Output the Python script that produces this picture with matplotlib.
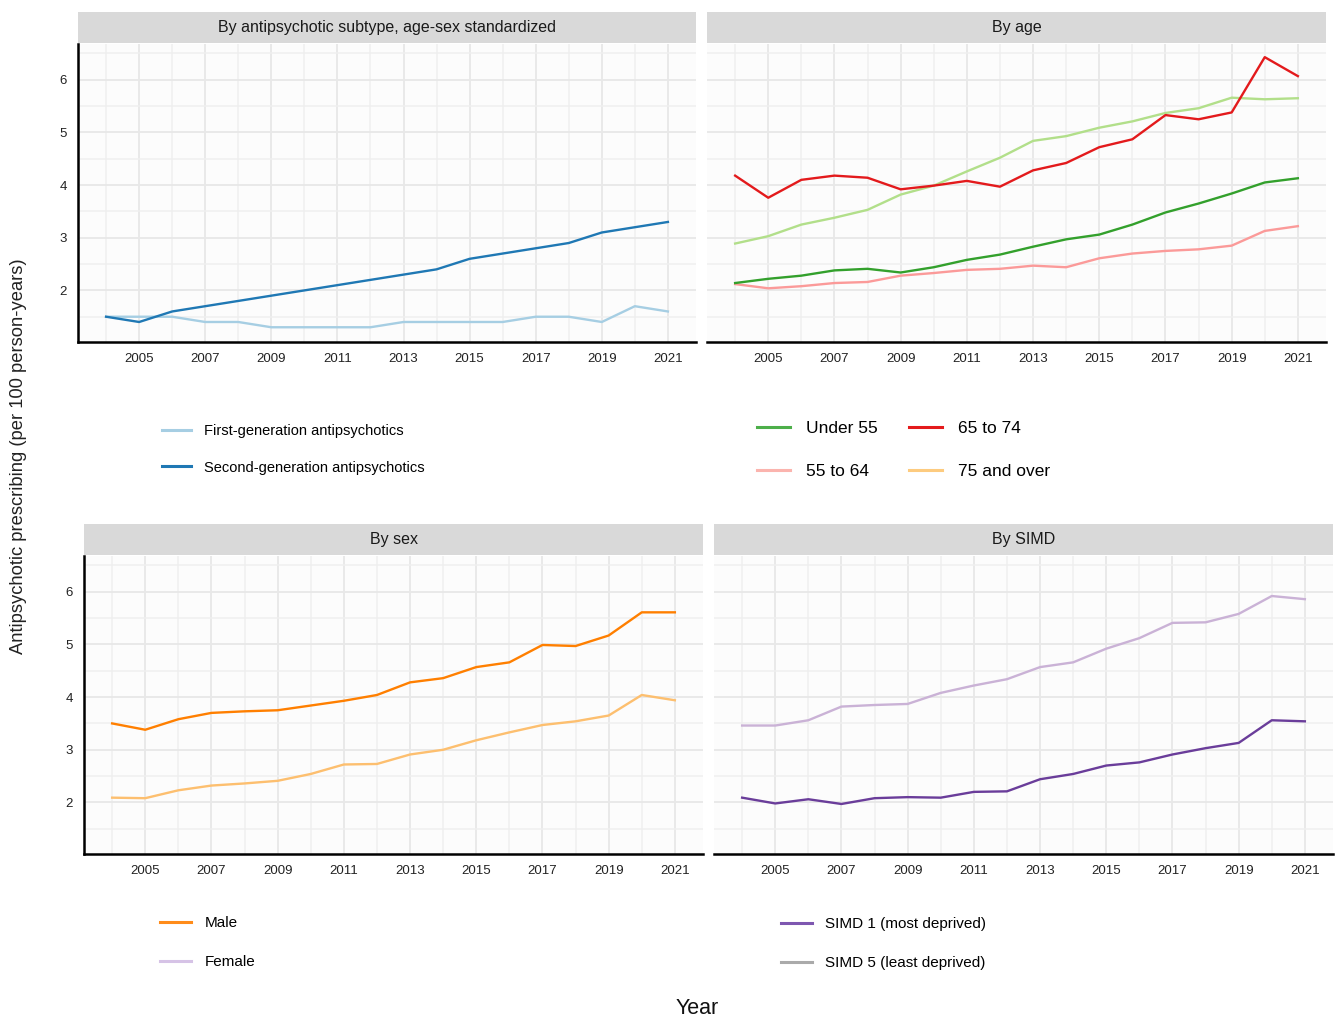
import matplotlib
matplotlib.use("Agg")
import matplotlib.pyplot as plt
from matplotlib.lines import Line2D

plt.rcParams['font.family'] = ['Liberation Sans', 'DejaVu Sans']

years = list(range(2004, 2022))

# subtype, age-sex standardized
first_gen = [1.5, 1.5, 1.5, 1.4, 1.4, 1.3, 1.3, 1.3, 1.3, 1.4, 1.4, 1.4, 1.4, 1.5, 1.5, 1.4, 1.7, 1.6]
second_gen = [1.5, 1.4, 1.6, 1.7, 1.8, 1.9, 2.0, 2.1, 2.2, 2.3, 2.4, 2.6, 2.7, 2.8, 2.9, 3.1, 3.2, 3.3]

# age groups
under_55 = [2.14, 2.22, 2.28, 2.38, 2.41, 2.34, 2.44, 2.58, 2.68, 2.83, 2.97, 3.06, 3.25, 3.48, 3.65, 3.84, 4.05, 4.13]
age_55_64 = [2.12, 2.04, 2.08, 2.14, 2.16, 2.28, 2.33, 2.39, 2.41, 2.47, 2.44, 2.61, 2.70, 2.75, 2.78, 2.85, 3.13, 3.22]
age_65_74 = [4.18, 3.76, 4.10, 4.18, 4.14, 3.92, 3.99, 4.08, 3.97, 4.28, 4.42, 4.72, 4.87, 5.33, 5.25, 5.38, 6.43, 6.07]
age_75_over = [2.89, 3.03, 3.25, 3.38, 3.53, 3.82, 3.99, 4.26, 4.52, 4.84, 4.93, 5.09, 5.21, 5.37, 5.46, 5.66, 5.63, 5.65]

# sex
male = [3.50, 3.38, 3.58, 3.70, 3.73, 3.75, 3.84, 3.93, 4.04, 4.28, 4.36, 4.57, 4.66, 4.99, 4.97, 5.17, 5.61, 5.61]
female = [2.09, 2.08, 2.23, 2.32, 2.36, 2.41, 2.54, 2.72, 2.73, 2.91, 3.00, 3.18, 3.33, 3.47, 3.54, 3.65, 4.04, 3.94]

# deprivation
simd1 = [2.09, 1.98, 2.06, 1.97, 2.08, 2.10, 2.09, 2.20, 2.21, 2.44, 2.54, 2.70, 2.76, 2.91, 3.03, 3.13, 3.56, 3.54]
simd5 = [3.46, 3.46, 3.56, 3.82, 3.85, 3.87, 4.08, 4.22, 4.34, 4.57, 4.66, 4.92, 5.12, 5.41, 5.42, 5.58, 5.92, 5.86]

W, H = 1338, 1019
fig = plt.figure(figsize=(W / 100, H / 100), dpi=100)


def px_axes(x0, y0, x1, y1):
    return fig.add_axes([x0 / W, 1 - y1 / H, (x1 - x0) / W, (y1 - y0) / H])


def panel(x0, y0, x1, y1, title, show_y):
    strip = px_axes(x0, y0 - 32, x1, y0 - 1)
    strip.set_facecolor('#D9D9D9')
    strip.set_xticks([])
    strip.set_yticks([])
    for s in strip.spines.values():
        s.set_visible(False)
    strip.text(0.5, 0.5, title, ha='center', va='center', fontsize=11.5, color='#1A1A1A')

    ax = px_axes(x0, y0, x1, y1)
    ax.set_facecolor('#FCFCFC')
    ax.set_xlim(2003.15, 2021.85)
    ax.set_ylim(1.02, 6.68)
    ax.set_xticks(range(2005, 2022, 2))
    ax.set_xticks(range(2004, 2022, 2), minor=True)
    ax.set_yticks([2, 3, 4, 5, 6])
    ax.set_yticks([1.5, 2.5, 3.5, 4.5, 5.5, 6.5], minor=True)
    ax.grid(True, which='major', color='#E8E8E8', lw=1.3)
    ax.grid(True, which='minor', color='#EFEFEF', lw=1.1)
    ax.set_axisbelow(True)
    ax.tick_params(which='both', length=0, labelsize=9.5, colors='#222222', pad=8)
    for s in ['top', 'right']:
        ax.spines[s].set_visible(False)
    ax.spines['bottom'].set_linewidth(1.8)
    ax.spines['left'].set_linewidth(1.8)
    if not show_y:
        ax.spines['left'].set_visible(False)
        ax.set_yticklabels([])
    return ax


lw = 1.7
ax1 = panel(78, 44, 696, 342, 'By antipsychotic subtype, age-sex standardized', True)
ax1.plot(years, first_gen, color='#A6CEE3', lw=lw)
ax1.plot(years, second_gen, color='#1F78B4', lw=lw)

ax2 = panel(707, 44, 1326, 342, 'By age', False)
ax2.plot(years, age_75_over, color='#B2DF8A', lw=lw)
ax2.plot(years, age_55_64, color='#FB9A99', lw=lw)
ax2.plot(years, under_55, color='#33A02C', lw=lw)
ax2.plot(years, age_65_74, color='#E31A1C', lw=lw)

ax3 = panel(84, 556, 703, 854, 'By sex', True)
ax3.plot(years, female, color='#FDBF6F', lw=lw)
ax3.plot(years, male, color='#FF7F00', lw=lw)

ax4 = panel(714, 556, 1333, 854, 'By SIMD', False)
ax4.plot(years, simd5, color='#CAB2D6', lw=lw)
ax4.plot(years, simd1, color='#6A3D9A', lw=lw)


def legend(labels, colors, x, y, ncol, size, spacing, hlen, colsp):
    handles = [Line2D([], [], color=c, lw=2.2) for c in colors]
    fig.legend(handles, labels, loc='upper left', bbox_to_anchor=(x / W, 1 - y / H),
               ncol=ncol, frameon=False, fontsize=size, handlelength=hlen,
               handletextpad=0.9, labelspacing=spacing, columnspacing=colsp,
               borderaxespad=0, borderpad=0)


legend(['First-generation antipsychotics', 'Second-generation antipsychotics'],
       ['#A6CEE3', '#1F78B4'], 162, 424, 1, 10.5, 1.55, 2.0, 1.2)
legend(['Under 55', '55 to 64', '65 to 74', '75 and over'],
       ['#4DAF4A', '#FBB4AE', '#E41A1C', '#FDCB7F'], 757, 421, 2, 12.5, 1.6, 1.9, 1.85)
legend(['Male', 'Female'], ['#FF8C1A', '#D6C3E6'], 160, 916, 1, 11, 1.65, 2.0, 1.2)
legend(['SIMD 1 (most deprived)', 'SIMD 5 (least deprived)'],
       ['#7E57B0', '#AAAAAA'], 781, 917, 1, 11, 1.65, 2.0, 1.2)

fig.text(19 / W, 1 - 456 / H, 'Antipsychotic prescribing (per 100 person-years)',
         rotation=90, ha='center', va='center', fontsize=13.2, color='#222222')
fig.text(697 / W, 1 - 1008 / H, 'Year', ha='center', va='center', fontsize=15.5, color='#111111')

fig.savefig('out.png', dpi=100, facecolor='white')
